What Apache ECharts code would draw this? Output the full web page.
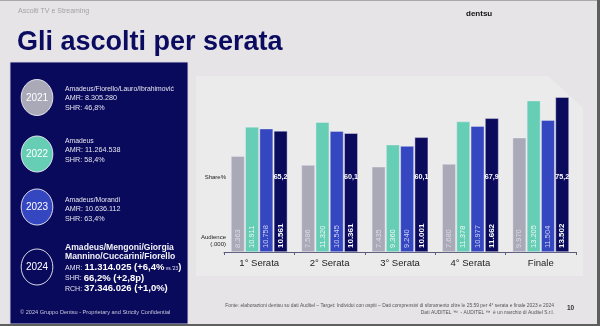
<!DOCTYPE html>
<html><head><meta charset="utf-8">
<script src="https://cdn.jsdelivr.net/npm/echarts@6/dist/echarts.min.js"></script>
<style>html,body{margin:0;padding:0;background:#e6e4e6}#c{width:600px;height:326px}</style>
</head><body><div id="c"></div>
<script>
// ---- data ----
var categories = ['1° Serata', '2° Serata', '3° Serata', '4° Serata', 'Finale'];
var years = ['2021', '2022', '2023', '2024'];
var aud2021 = [8363, 7586, 7435, 7680, 9970];
var aud2022 = [10911, 11320, 9360, 11378, 13205];
var aud2023 = [10758, 10545, 9240, 10977, 11504];
var aud2024 = [10561, 10361, 10001, 11662, 13502];
var share2024 = [65.2, 60.1, 60.1, 67.9, 75.2];
var panelNames = ['Amadeus/Fiorello/Lauro/Ibrahimović', 'Amadeus', 'Amadeus/Morandi'];
var panelAMR = ['8.305.280', '11.264.538', '10.636.112'];
var panelSHR = ['46,8%', '58,4%', '63,4%'];

// ---- style ----
var FONT = '"Liberation Sans", Arial, sans-serif';
var colors = ['#aaa9b7', '#67ceb6', '#3446c0', '#0b0b5e'];
var labelColors = ['#dcdce6', '#eef8f5', '#cfd5f3', '#ffffff'];
var BAR_W = 13.6, GAP = 0.05;

function fmtAud(v) {
  var t = Math.floor(v / 1000), r = String(v % 1000);
  while (r.length < 3) r = '0' + r;
  return t + '.' + r;
}
function fmtShare(v) { return v.toFixed(1).replace('.', ','); }

var allAud = [aud2021, aud2022, aud2023, aud2024];
var series = allAud.map(function (arr, k) {
  var last = k === 3;
  return {
    type: 'bar', name: years[k], data: arr,
    barWidth: BAR_W, barGap: (GAP * 100) + '%',
    itemStyle: { color: colors[k], borderColor: 'rgba(235,235,245,0.7)', borderWidth: 0.6 },
    label: {
      show: true, position: 'insideBottom', rotate: 90, distance: 4,
      align: 'left', verticalAlign: 'middle',
      formatter: function (p) { return fmtAud(p.value); },
      color: labelColors[k],
      fontFamily: FONT, fontSize: last ? 8 : 7.5, fontWeight: last ? 'bold' : 'normal'
    },
    z: 3
  };
});
series.push({
  type: 'custom',
  data: share2024.map(function (s, i) { return [i, s]; }),
  z: 10,
  renderItem: function (params, api) {
    var i = api.value(0);
    var p = api.coord([i, 0]);
    var off = (BAR_W * 4 + BAR_W * GAP * 3) / 2 - BAR_W / 2;
    return {
      type: 'text', x: p[0] + off, y: p[1] - 75, z2: 20,
      style: { text: fmtShare(api.value(1)), fill: '#ffffff', font: 'bold 7.2px ' + FONT,
        align: 'center', verticalAlign: 'middle', textAlign: 'center', textVerticalAlign: 'middle' }
    };
  }
});

function txt(x, y, text, font, fill, align, extra) {
  var o = { type: 'text', x: x, y: y, z: 50,
    style: { text: text, font: font, fill: fill, align: align || 'left', verticalAlign: 'middle',
      textAlign: align || 'left', textVerticalAlign: 'middle' } };
  if (extra) for (var k in extra) o.style[k] = extra[k];
  return o;
}

var graphics = [
  // chart panel
  { type: 'polygon', z: 0, shape: { points: [[196, 76], [548, 76], [583, 108], [583, 276], [196, 276]] }, style: { fill: '#ecebec' } },
  // left panel
  { type: 'rect', z: 1, shape: { x: 10, y: 62, width: 178, height: 262 }, style: { fill: '#0a0a5c', stroke: 'rgba(215,215,230,0.9)', lineWidth: 1 } },
  // slide borders
  { type: 'rect', z: 60, shape: { x: 0, y: 0, width: 600, height: 1 }, style: { fill: '#a8a8a8' } },
  { type: 'rect', z: 60, shape: { x: 597, y: 0, width: 3, height: 326 }, style: { fill: '#5e5e5e' } },
  { type: 'rect', z: 60, shape: { x: 0, y: 324, width: 600, height: 2 }, style: { fill: '#5e5e5e' } },
  // header
  txt(18, 11, 'Ascolti TV e Streaming', '7px ' + FONT, '#a2a2aa'),
  txt(466, 14, 'dentsu', 'bold 8px ' + FONT, '#111111'),
  txt(17, 43, 'Gli ascolti per serata', 'bold 27px ' + FONT, '#0b0b60'),
  // chart row labels
  txt(226, 177, 'Share%', '6px ' + FONT, '#222222', 'right'),
  txt(226, 237, 'Audience', '6px ' + FONT, '#222222', 'right'),
  txt(226, 244, '(.000)', '6px ' + FONT, '#222222', 'right'),
  // footer
  txt(554, 306, 'Fonte: elaborazioni dentsu su dati Auditel – Target: Individui con ospiti – Dati comprensivi di sforamento oltre le 25.59 per 4° serata e finale 2023 e 2024', '4.9px ' + FONT, '#555555', 'right'),
  txt(554, 312.5, 'Dati AUDITEL ™  - AUDITEL ™  è un marchio di Auditel S.r.l.', '4.9px ' + FONT, '#555555', 'right'),
  txt(567, 308, '10', 'bold 6.5px ' + FONT, '#333333'),
  txt(20, 312, '© 2024 Gruppo Dentsu - Proprietary and Strictly Confidential', '5.6px ' + FONT, '#c6c6dc')
];

// year circles
var circleY = [97.5, 154, 207, 267];
var circleFill = [colors[0], colors[1], colors[2], '#0a0a5c'];
years.forEach(function (y, k) {
  graphics.push({ type: 'circle', z: 20, x: 37, y: circleY[k], scaleX: 0.88,
    shape: { cx: 0, cy: 0, r: 18 },
    style: { fill: circleFill[k], stroke: '#e6e6f0', lineWidth: 1 } });
  graphics.push(txt(37, circleY[k] + 0.5, y, '10px ' + FONT, '#ffffff', 'center'));
});
// panel texts 2021-2023
var textTop = [89, 141, 200];
for (var k = 0; k < 3; k++) {
  graphics.push(txt(65, textTop[k], panelNames[k], '6.8px ' + FONT, '#e4e4f0'));
  graphics.push(txt(65, textTop[k] + 9.5, 'AMR: ' + panelAMR[k], '7.2px ' + FONT, '#e4e4f0'));
  graphics.push(txt(65, textTop[k] + 19, 'SHR: ' + panelSHR[k], '7.2px ' + FONT, '#e4e4f0'));
}
// 2024 block
graphics.push(txt(65, 248, 'Amadeus/Mengoni/Giorgia', 'bold 8.6px ' + FONT, '#f2f2f8'));
graphics.push(txt(65, 257, 'Mannino/Cuccarini/Fiorello', 'bold 8.6px ' + FONT, '#f2f2f8'));
var rich = {
  s: { font: '7px ' + FONT, fill: '#e4e4f0', lineHeight: 11, verticalAlign: 'bottom', padding: [0, 0, 1, 0] },
  b: { font: 'bold 9.5px ' + FONT, fill: '#ffffff', lineHeight: 11, verticalAlign: 'bottom' },
  t: { font: '4.8px ' + FONT, fill: '#e4e4f0', lineHeight: 11, verticalAlign: 'bottom', padding: [0, 0, 1.5, 0] }
};
function richTxt(y, text) {
  return { type: 'text', x: 65, y: y, z: 50,
    style: { text: text, rich: rich, fill: '#ffffff', font: '7px ' + FONT, align: 'left', verticalAlign: 'middle', textAlign: 'left', textVerticalAlign: 'middle' } };
}
graphics.push(richTxt(267, '{s|AMR: }{b|11.314.025 (+6,4%}{t| vs.\'23}{b|)}'));
graphics.push(richTxt(277.5, '{s|SHR: }{b|66,2% (+2,8p)}'));
graphics.push(richTxt(288, '{s|RCH: }{b|37.346.026 (+1,0%)}'));

var chart = echarts.init(document.getElementById('c'), null, { renderer: 'canvas' });
chart.setOption({
  animation: false,
  backgroundColor: '#e6e4e6',
  grid: { left: 224, right: 24, top: 80, bottom: 74 },
  xAxis: {
    type: 'category', data: categories,
    axisLine: { lineStyle: { color: '#5b5b7c', width: 1 } },
    axisTick: { show: true, length: 3, lineStyle: { color: '#5b5b7c' } },
    axisLabel: { color: '#222222', fontSize: 9.5, fontFamily: FONT, margin: 6 }
  },
  yAxis: { type: 'value', min: 0, max: 15000, show: false, splitLine: { show: false } },
  series: series,
  graphic: { elements: graphics }
});
</script></body></html>
